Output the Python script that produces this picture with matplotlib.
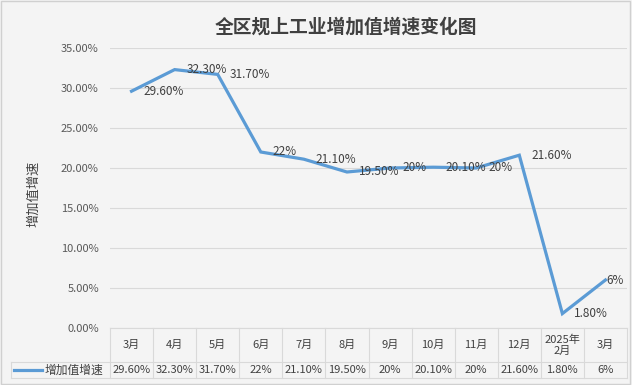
import matplotlib
matplotlib.use("Agg")
import matplotlib.pyplot as plt
import matplotlib.transforms as mtransforms
from matplotlib.patches import Rectangle

plt.rcParams['font.family'] = ['Noto Sans CJK SC', 'DejaVu Sans']

title = "全区规上工业增加值增速变化图"
series_name = "增加值增速"
months = ["3月", "4月", "5月", "6月", "7月", "8月", "9月", "10月", "11月", "12月", "2025年\n2月", "3月"]
growth = [29.6, 32.3, 31.7, 22, 21.1, 19.5, 20, 20.1, 20, 21.6, 1.8, 6]
growth_labels = ["29.60%", "32.30%", "31.70%", "22%", "21.10%", "19.50%",
                 "20%", "20.10%", "20%", "21.60%", "1.80%", "6%"]
yticks = [0, 5, 10, 15, 20, 25, 30, 35]

bg = "#f4f4f4"
grid_c = "#d9d9d9"
line_c = "#5b9bd5"
txt_c = "#404040"

W, H = 632, 385
fig = plt.figure(figsize=(W / 100, H / 100), dpi=100, facecolor=bg)
fig.patches.append(Rectangle((0.002, 0.003), 0.995, 0.994, transform=fig.transFigure,
                             fill=False, edgecolor="#d0d0d0", lw=1))

left, right, top, bottom = 110, 627, 48, 328
ax = fig.add_axes([left / W, 1 - bottom / H, (right - left) / W, (bottom - top) / H])
ax.set_facecolor(bg)
n = len(growth)
x = list(range(n))
ax.set_xlim(-0.5, n - 0.5)
ax.set_ylim(0, 35)
ax.set_yticks(yticks)
ax.set_yticklabels(["%.2f%%" % v for v in yticks], fontsize=8, color="#595959")
ax.tick_params(axis='y', length=0, pad=8)
ax.set_xticks([])
ax.grid(axis='y', color=grid_c, lw=0.8)
ax.set_axisbelow(True)
for s in ax.spines.values():
    s.set_visible(False)

ax.plot(x, growth, color=line_c, lw=2.3, solid_joinstyle='miter', clip_on=False, zorder=3)
for i, (v, lab) in enumerate(zip(growth, growth_labels)):
    dx = 12 if i < n - 1 else 1
    ax.annotate(lab, (i, v), xytext=(dx, 0), textcoords='offset pixels',
                ha='left', va='center', fontsize=8.5, color=txt_c, zorder=4)

ax.set_ylabel(series_name, fontsize=9.5, color=txt_c)
ax.yaxis.set_label_coords((40 - left) / (right - left), (bottom - 194) / (bottom - top))

# data table under the axis
trans = mtransforms.blended_transform_factory(ax.transData, ax.transAxes)
figx = mtransforms.blended_transform_factory(fig.transFigure, ax.transAxes)
ah = bottom - top
r1 = -34 / ah
r2 = -50 / ah
lk = dict(color=grid_c, lw=0.8, clip_on=False)
ax.plot([-0.5, n - 0.5], [0, 0], transform=trans, **lk)
for b in range(n + 1):
    ax.plot([b - 0.5, b - 0.5], [0, r2], transform=trans, **lk)
ax.plot([11 / W, right / W], [r1, r1], transform=figx, **lk)
ax.plot([11 / W, right / W], [r2, r2], transform=figx, **lk)
ax.plot([11 / W, 11 / W], [r1, r2], transform=figx, **lk)

for i, m in enumerate(months):
    ax.text(i, r1 / 2, m, transform=trans, ha='center', va='center',
            fontsize=8, color=txt_c, linespacing=1.1)
    ax.text(i, (r1 + r2) / 2, growth_labels[i], transform=trans, ha='center',
            va='center', fontsize=8, color=txt_c)

ax.plot([14 / W, 42 / W], [(r1 + r2) / 2] * 2, transform=figx, color=line_c, lw=2.3,
        clip_on=False)
ax.text(45 / W, (r1 + r2) / 2, series_name, transform=figx, ha='left', va='center',
        fontsize=8.5, color=txt_c)

fig.text(346 / W, 1 - 27 / H, title, ha='center', va='center', fontsize=13.5,
         fontweight='bold', color="#404040")

fig.savefig("out.png", dpi=100, facecolor=bg)
